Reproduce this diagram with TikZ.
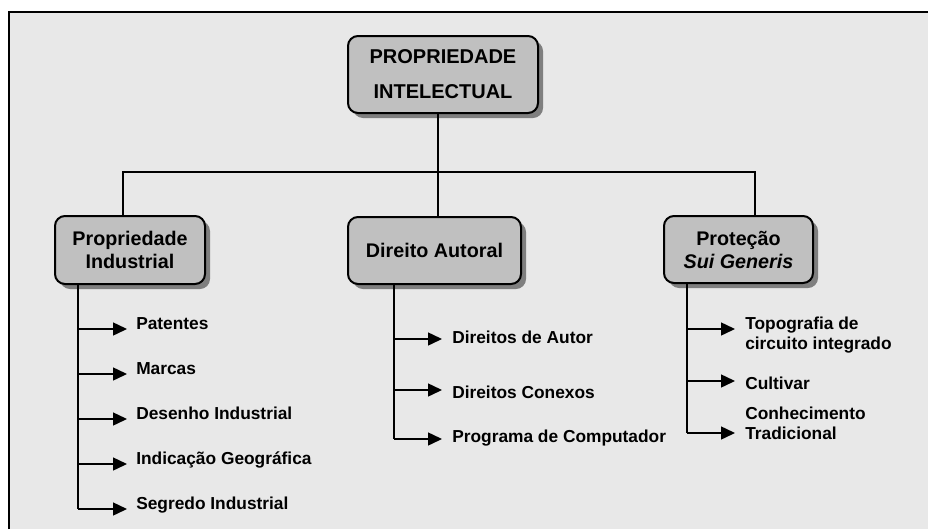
\documentclass[tikz,border=0pt]{standalone}
\usepackage{fontspec}
\setmainfont{Liberation Sans}
\usetikzlibrary{arrows.meta,shadows,calc}
\definecolor{bg}{HTML}{E8E8E8}
\definecolor{boxfill}{HTML}{C0C0C0}
\definecolor{shadowc}{HTML}{7F7F7F}
\begin{document}
\begin{tikzpicture}[x=0.75pt,y=-0.75pt,
  catbox/.style={draw=black, line width=1.5pt, fill=boxfill, rounded corners=7.5pt, align=center,
    font=\bfseries\fontsize{14.8}{17.25}\selectfont, inner sep=0pt,
    drop shadow={shadow xshift=3.75pt, shadow yshift=-3.75pt, fill=shadowc, opacity=1}},
  item/.style={anchor=base west, inner sep=0pt, align=left, font=\bfseries\fontsize{13}{14.6}\selectfont},
  conn/.style={line width=1.5pt},
  arr/.style={line width=1.1pt, -{Triangle[length=10.5pt,width=9.75pt]}}]
\useasboundingbox (0,0) rectangle (928,529);
% frame
\fill[bg] (9,12) rectangle (928,529);
\draw[line width=1.5pt] (9,529) -- (9,12) -- (928,12);

% category boxes
\node[catbox, minimum width=142.5pt, minimum height=57.75pt, font=\bfseries\fontsize{15}{26.25}\selectfont] (top) at (443,74.5) {PROPRIEDADE\\INTELECTUAL};
\node[catbox, minimum width=112.5pt, minimum height=51pt] (ind) at (130,250) {Propriedade\\Industrial};
\node[catbox, minimum width=129.75pt, minimum height=50.25pt] (aut) at (434.5,250.5) {Direito Autoral};
\node[catbox, minimum width=111.75pt, minimum height=50.25pt] (sui) at (738.5,249.5) {Proteção\\\textit{Sui Generis}};

% bus
\coordinate (busL) at (123,172);
\coordinate (busM) at (438,172);
\coordinate (busR) at (755,172);
\draw[conn] (top.south -| busM) -- (busM);
\draw[conn] (ind.north -| busL) |- (busR) -- (sui.north -| busR);
\draw[conn] (aut.north -| busM) -- (busM);

% items left
\node[item] (p1) at (136,329) {Patentes};
\node[item] (p2) at (136,374) {Marcas};
\node[item] (p3) at (136,419) {Desenho Industrial};
\node[item] (p4) at (136,464) {Indicação Geográfica};
\node[item] (p5) at (136,509) {Segredo Industrial};
\coordinate (lsp) at (78,509);
\draw[conn] (ind.south -| lsp) -- (lsp);
\foreach \n in {p1,p2,p3,p4,p5}
  \draw[arr] (\n.base west -| lsp) -- ($(\n.base west)+(-9,0)$);

% items middle
\node[item] (m1) at (452,343) {Direitos de Autor};
\node[item] (m2) at (452,398) {Direitos Conexos};
\node[item] (m3) at (452,442) {Programa de Computador};
\coordinate (msp) at (394,439);
\draw[conn] (aut.south -| msp) -- (msp);
\foreach \n/\dy in {m1/-4,m2/-8,m3/-3}
  \draw[arr] ($(\n.base west -| msp)+(0,\dy)$) -- ($(\n.base west)+(-10,\dy)$);

% items right (base of a multi-line node is its last line)
\node[item] (r1) at (745,349) {Topografia de\\circuito integrado};
\node[item] (r2) at (745,389) {Cultivar};
\node[item, font=\bfseries\fontsize{13}{15}\selectfont] (r3) at (745,439) {Conhecimento\\Tradicional};
\coordinate (rsp) at (687,433);
\draw[conn] (sui.south -| rsp) -- (rsp);
\foreach \n/\dy in {r1/-20,r2/-8,r3/-6}
  \draw[arr] ($(\n.base west -| rsp)+(0,\dy)$) -- ($(\n.base west)+(-10,\dy)$);
\end{tikzpicture}
\end{document}
